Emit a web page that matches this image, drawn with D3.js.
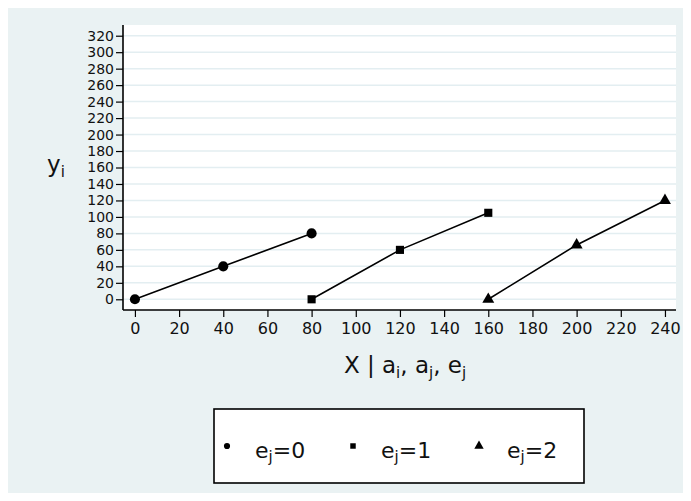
<!DOCTYPE html>
<html><head><meta charset="utf-8">
<script src="https://cdn.jsdelivr.net/npm/d3@7"></script>
<style>body{margin:0;background:#fff}svg{display:block}text{font-family:"DejaVu Sans",sans-serif}</style>
</head><body>
<svg id="c" width="691" height="501"></svg>
<script>
const groups = ["e_j=0","e_j=1","e_j=2"];
const xs0 = [0,40,80];   const ys0 = [0,40,80];
const xs1 = [80,120,160]; const ys1 = [0,60,105];
const xs2 = [160,200,240]; const ys2 = [0,66,120];
const xTicks = [0,20,40,60,80,100,120,140,160,180,200,220,240];
const yTicks = [0,20,40,60,80,100,120,140,160,180,200,220,240,260,280,300,320];
const series = [
  {name:"0", shape:d3.symbolCircle, xs:xs0, ys:ys0},
  {name:"1", shape:d3.symbolSquare, xs:xs1, ys:ys1},
  {name:"2", shape:d3.symbolTriangle, xs:xs2, ys:ys2}
];
const svg = d3.select("#c");
svg.append("rect").attr("x",8).attr("y",8).attr("width",675).attr("height",485).attr("fill","#eaf2f3");
const L=123,R=676,T=25,B=310;
svg.append("rect").attr("x",L).attr("y",T).attr("width",R-L).attr("height",B-T).attr("fill","#fff");
const x = d3.scaleLinear().domain([-5.4,245]).range([L,R]);
const y = d3.scaleLinear().domain([-13,333]).range([B,T]);
// grid
svg.append("g").selectAll("line").data(yTicks).join("line")
  .attr("x1",L).attr("x2",R).attr("y1",d=>y(d)).attr("y2",d=>y(d))
  .attr("stroke","#e3eef1").attr("stroke-width",1.5);
// axes
const ya = svg.append("g").attr("transform",`translate(${L},0)`)
  .call(d3.axisLeft(y).tickValues(yTicks).tickSize(7).tickPadding(2).tickSizeOuter(0));
const xa = svg.append("g").attr("transform",`translate(0,${B})`)
  .call(d3.axisBottom(x).tickValues(xTicks).tickSize(7).tickPadding(6).tickSizeOuter(0));
[ya,xa].forEach(a=>{
  a.select(".domain").attr("stroke","#000").attr("stroke-width",1.6);
  a.selectAll(".tick line").attr("stroke","#000").attr("stroke-width",1.2);
  a.selectAll(".tick text").attr("fill","#111").style("font-size","16px").style("font-family","DejaVu Sans");
});
ya.selectAll(".tick text").style("font-size","14px");
ya.select(".domain").attr("d",`M0,${T}V${B}`);
xa.select(".domain").attr("d",`M${L},0H${R}`);
// lines & markers
const line = d3.line().x(d=>x(d[0])).y(d=>y(d[1]));
series.forEach(s=>{
  const pts = s.xs.map((v,i)=>[v,s.ys[i]]);
  svg.append("path").attr("d",line(pts)).attr("fill","none").attr("stroke","#000").attr("stroke-width",1.6);
  const size = s.shape===d3.symbolCircle?80:(s.shape===d3.symbolSquare?66:62);
  svg.append("g").selectAll("path").data(pts).join("path")
    .attr("transform",d=>`translate(${x(d[0])},${y(d[1])})`)
    .attr("d",d3.symbol().type(s.shape).size(size)).attr("fill","#000");
});
// y title
const yt = svg.append("text").attr("x",47).attr("y",172).attr("fill","#111").style("font-size","23px");
yt.append("tspan").text("y");
yt.append("tspan").attr("dy",5).style("font-size","15px").text("i");
// x title
const xt = svg.append("text").attr("x",405).attr("y",373).attr("text-anchor","middle").attr("fill","#111").style("font-size","23px");
xt.append("tspan").text("X | a");
xt.append("tspan").attr("dy",5).style("font-size","15px").text("i");
xt.append("tspan").attr("dy",-5).text(", a");
xt.append("tspan").attr("dy",5).style("font-size","15px").text("j");
xt.append("tspan").attr("dy",-5).text(", e");
xt.append("tspan").attr("dy",5).style("font-size","15px").text("j");
// legend
svg.append("rect").attr("x",214).attr("y",409).attr("width",370).attr("height",74)
  .attr("fill","#fff").attr("stroke","#000").attr("stroke-width",1.6);
const lx = [227,353,479];
series.forEach((s,i)=>{
  const sz = s.shape===d3.symbolCircle?30:(s.shape===d3.symbolSquare?30:38);
  svg.append("path").attr("transform",`translate(${lx[i]},446)`)
    .attr("d",d3.symbol().type(s.shape).size(sz)).attr("fill","#000");
  const t = svg.append("text").attr("x",lx[i]+28).attr("y",458).attr("fill","#111").style("font-size","22px");
  const parts = groups[i].split("_");
  t.append("tspan").text(parts[0]);
  const rest = parts[1];
  t.append("tspan").attr("dy",4).style("font-size","15px").text(rest[0]);
  t.append("tspan").attr("dy",-4).text(rest.slice(1));
});
</script>
</body></html>
